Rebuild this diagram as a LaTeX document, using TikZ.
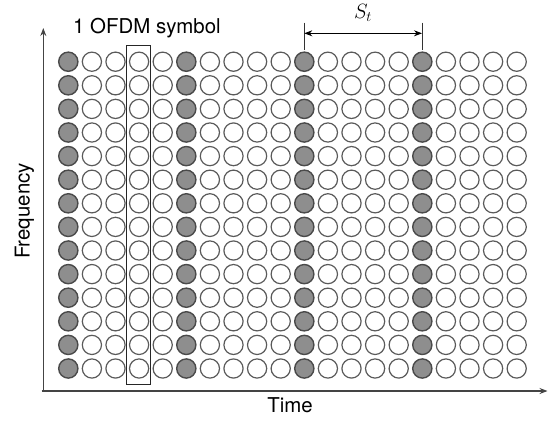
\documentclass[tikz,border=0pt]{standalone}
\usepackage{fontspec}
\setmainfont{TeX Gyre Heros}
\usetikzlibrary{arrows.meta}
\definecolor{pilotfill}{HTML}{8E8E8E}
\definecolor{pilotline}{HTML}{4A4A4A}
\definecolor{dataline}{HTML}{5A5A5A}
\definecolor{axisgray}{HTML}{444444}
\begin{document}
\begin{tikzpicture}[x=1bp,y=-1bp,
  pilot/.style={fill=pilotfill,draw=pilotline,line width=1.4bp},
  datasc/.style={fill=white,draw=dataline,line width=1.2bp},
  axisline/.style={draw=axisgray,line width=1.1bp,-{Stealth[length=8bp,width=6bp]}},
  dimline/.style={draw=black,line width=0.9bp,{Stealth[length=8bp,width=6bp]}-{Stealth[length=8bp,width=6bp]}},
  tickline/.style={draw=black!80,line width=0.9bp},
  lbl/.style={font=\fontsize{20.5}{22}\selectfont,inner sep=0pt}]
\useasboundingbox (0,0) rectangle (548,421);
% grid of subcarriers
\foreach \i in {0,...,19}{
  \foreach \j in {0,...,13}{
    \pgfmathtruncatemacro{\m}{mod(\i,5)}
    \ifnum\m=0
      \path[pilot] (68.3+23.6*\i,61.7+23.6*\j) circle (9.6);
    \else
      \path[datasc] (68.3+23.6*\i,61.7+23.6*\j) circle (9.6);
    \fi
  }
}
% OFDM symbol box
\draw[draw=black!85,line width=1bp] (126.7,45.7) rectangle (150.7,384);
% axes
\coordinate (orig) at (43.3,391);
\coordinate (ytop) at (43.3,28);
\coordinate (xleft) at (41.5,391);
\coordinate (xend) at (547.5,391);
\draw[axisline] (orig) -- (ytop);
\draw[axisline] (xleft) -- (xend);
% S_t dimension
\coordinate (t1a) at (304.3,22.5);
\coordinate (t1b) at (304.3,50);
\coordinate (t2a) at (422,22.5);
\coordinate (t2b) at (422,50);
\coordinate (d1) at (304.3,33.3);
\coordinate (d2) at (422,33.3);
\draw[tickline] (t1a) -- (t1b);
\draw[tickline] (t2a) -- (t2b);
\draw[dimline] (d1) -- (d2);
\node[lbl] (st) at (363,13) {$S_t$};
% labels
\node[lbl,anchor=base west] (sym) at (73,33) {1 OFDM symbol};
\node[lbl,rotate=90] (freq) at (24.5,211) {Frequency};
\node[lbl] (time) at (290,405) {Time};
\end{tikzpicture}
\end{document}
